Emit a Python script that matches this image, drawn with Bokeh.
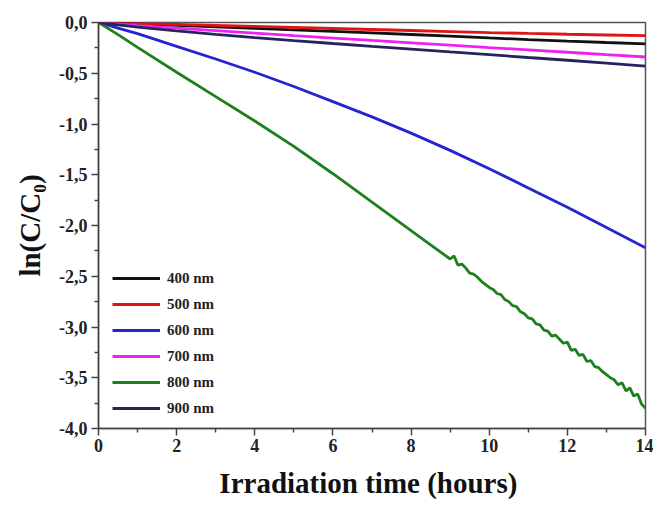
from bokeh.plotting import figure
from bokeh.models import Range1d, FixedTicker, CustomJSTickFormatter, Legend, LegendItem
from bokeh.embed import file_html
from bokeh.resources import INLINE

# ---- data ----
t_smooth = [0, 0.5, 1, 2, 3, 4, 5, 6, 7, 8, 9, 10, 11, 12, 13, 14]
y_400 = [0, -0.006, -0.013, -0.028, -0.043, -0.058, -0.073, -0.088, -0.103, -0.118, -0.135, -0.152, -0.168, -0.183, -0.197, -0.21]
y_500 = [0, -0.004, -0.009, -0.019, -0.029, -0.039, -0.049, -0.059, -0.069, -0.079, -0.089, -0.099, -0.108, -0.116, -0.123, -0.13]
y_600 = [0, -0.055, -0.11, -0.235, -0.36, -0.49, -0.63, -0.78, -0.93, -1.09, -1.26, -1.44, -1.63, -1.82, -2.02, -2.22]
y_700 = [0, -0.016, -0.03, -0.055, -0.08, -0.105, -0.13, -0.153, -0.177, -0.20, -0.223, -0.247, -0.27, -0.293, -0.317, -0.34]
y_900 = [0, -0.024, -0.045, -0.082, -0.116, -0.148, -0.178, -0.207, -0.235, -0.262, -0.29, -0.317, -0.345, -0.372, -0.40, -0.43]

t_800 = [0, 0.5, 1, 2, 3, 4, 5, 6, 7, 8, 8.5, 9.0, 9.1, 9.2, 9.3, 9.4, 9.5, 9.6, 9.7, 9.8, 9.9,
         10.0, 10.1, 10.2, 10.3, 10.4, 10.5, 10.6, 10.7, 10.8, 10.9,
         11.0, 11.1, 11.2, 11.3, 11.4, 11.5, 11.6, 11.7, 11.8, 11.9,
         12.0, 12.1, 12.2, 12.3, 12.4, 12.5, 12.6, 12.7, 12.8, 12.9,
         13.0, 13.1, 13.2, 13.3, 13.4, 13.5, 13.6, 13.7, 13.8, 13.9, 14.0]
y_800 = [0, -0.12, -0.245, -0.49, -0.73, -0.97, -1.22, -1.49, -1.77, -2.05, -2.19, -2.33, -2.30, -2.39, -2.38, -2.42, -2.47, -2.48, -2.51, -2.55, -2.58,
         -2.61, -2.63, -2.67, -2.68, -2.73, -2.75, -2.79, -2.80, -2.85, -2.87,
         -2.91, -2.92, -2.97, -2.98, -3.03, -3.04, -3.09, -3.08, -3.12, -3.16,
         -3.15, -3.23, -3.22, -3.28, -3.27, -3.34, -3.33, -3.39, -3.40, -3.44,
         -3.47, -3.50, -3.52, -3.57, -3.55, -3.63, -3.60, -3.68, -3.66, -3.76, -3.80]

series_names = ["400 nm", "500 nm", "600 nm", "700 nm", "800 nm", "900 nm"]
series_colors = ["#111111", "#dd1515", "#2525d0", "#ee22ee", "#1c801c", "#25255e"]

x_ticks = [0, 2, 4, 6, 8, 10, 12, 14]
x_minor = [1, 3, 5, 7, 9, 11, 13]
y_ticks = [0, -0.5, -1.0, -1.5, -2.0, -2.5, -3.0, -3.5, -4.0]
y_tick_labels = ["0,0", "-0,5", "-1,0", "-1,5", "-2,0", "-2,5", "-3,0", "-3,5", "-4,0"]
y_minor = [-0.25, -0.75, -1.25, -1.75, -2.25, -2.75, -3.25, -3.75]

FONT = "Liberation Serif"

p = figure(width=653, height=507, output_backend="svg", toolbar_location=None,
           x_range=Range1d(0, 14), y_range=Range1d(-4, 0),
           min_border_left=98, min_border_right=8, min_border_top=22, min_border_bottom=79)
p.grid.visible = False
p.background_fill_color = "white"
p.border_fill_color = "white"
p.outline_line_color = "#555555"
p.outline_line_width = 1.5

xs = [t_smooth, t_smooth, t_smooth, t_smooth, t_800, t_smooth]
ys = [y_400, y_500, y_600, y_700, y_800, y_900]
renderers = []
for x, y, c in zip(xs, ys, series_colors):
    r = p.line(x, y, line_color=c, line_width=2.8)
    renderers.append(r)

legend = Legend(items=[LegendItem(label=n, renderers=[r]) for n, r in zip(series_names, renderers)],
                location=(14, 10), padding=0, margin=0, spacing=6,
                glyph_width=48, glyph_height=20, label_height=20, label_standoff=7,
                label_text_font=FONT, label_text_font_style="bold", label_text_font_size="15px",
                label_text_color="#222222",
                border_line_color=None, background_fill_alpha=0)
p.add_layout(legend)

for ax in (p.xaxis[0], p.yaxis[0]):
    ax.axis_line_color = "#444444"
    ax.axis_line_width = 1.5
    ax.major_tick_line_color = "#444444"
    ax.minor_tick_line_color = "#444444"
    ax.major_tick_line_width = 1.5
    ax.minor_tick_line_width = 1.5
    ax.major_tick_in = 0
    ax.major_tick_out = 7
    ax.minor_tick_in = 0
    ax.minor_tick_out = 4
    ax.major_label_text_font = FONT
    ax.major_label_text_font_style = "bold"
    ax.major_label_text_font_size = "18px"
    ax.major_label_text_color = "#222222"
    ax.axis_label_text_font = FONT
    ax.axis_label_text_font_style = "bold"
    ax.axis_label_text_font_size = "29px"
    ax.axis_label_text_color = "#111111"

p.xaxis.ticker = FixedTicker(ticks=x_ticks, minor_ticks=x_minor)
p.yaxis.ticker = FixedTicker(ticks=y_ticks, minor_ticks=y_minor)
p.yaxis.formatter = CustomJSTickFormatter(args=dict(tvals=y_ticks, tlabels=y_tick_labels), code="""
    for (let i = 0; i < tvals.length; i++) {
        if (Math.abs(tvals[i] - tick) < 1e-6) return tlabels[i];
    }
    return '';
""")
p.xaxis.axis_label = "Irradiation  time (hours)"
p.yaxis.axis_label = "ln(C/C\u2080)"
p.xaxis.major_label_standoff = 3
p.xaxis.axis_label_standoff = 12
p.yaxis.major_label_standoff = 4
p.yaxis.axis_label_standoff = 10

open("out.html", "w").write(file_html(p, INLINE))
